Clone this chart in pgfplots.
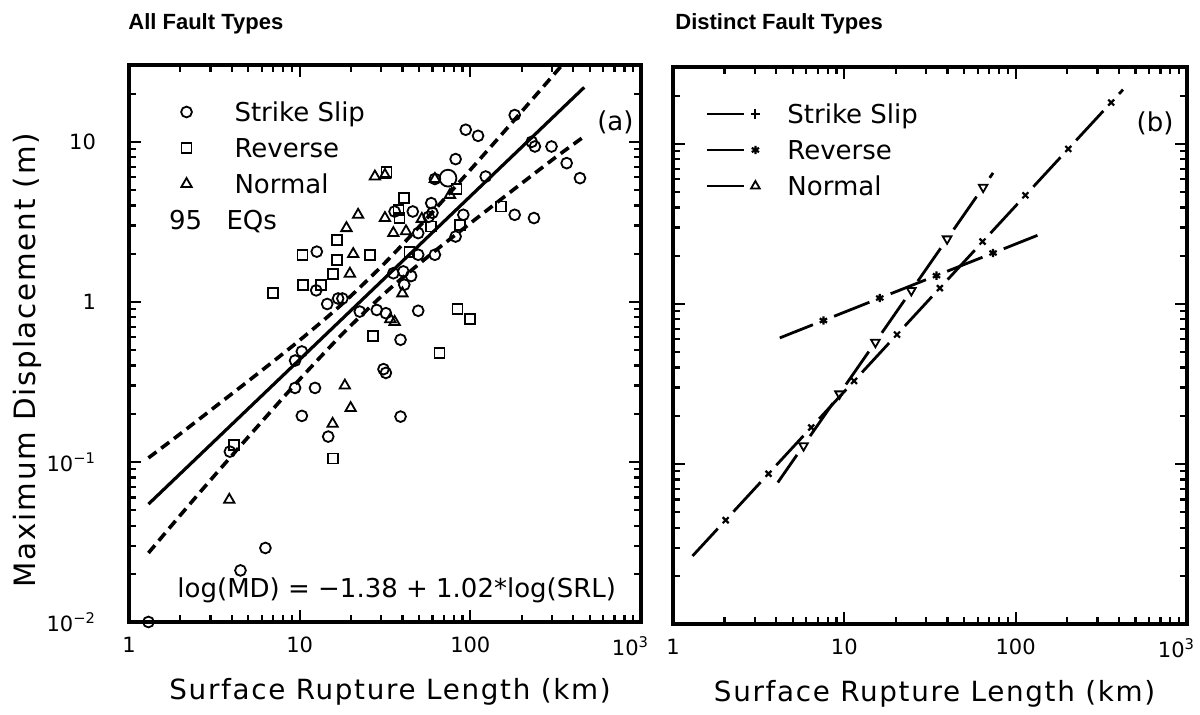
\documentclass[border=0pt]{standalone}
\usepackage{pgfplots}
\pgfplotsset{compat=1.18}
\usepackage{fontspec}
\setmainfont{DejaVu Sans}
\newfontfamily\lblfont[LetterSpace=6]{DejaVu Sans}
\newfontfamily\titlefont{Liberation Sans}
\usetikzlibrary{plotmarks}

\begin{document}
\begin{tikzpicture}
\useasboundingbox (0,0) rectangle (600pt,357.5pt);
\node[anchor=base west, inner sep=0pt, font={\titlefont\bfseries\fontsize{11}{13}\selectfont}] at (64pt,342.5pt) {All Fault Types};
\node[anchor=base west, inner sep=0pt, font={\titlefont\bfseries\fontsize{11}{13}\selectfont}] at (337.5pt,342.5pt) {Distinct Fault Types};

% ---------------- Panel (a) ----------------
\begin{axis}[
  xmode=log, ymode=log, xmin=1, xmax=1000, ymin=0.01, ymax=30.2,
  scale only axis, width=256pt, height=278.5pt, at={(64.5pt,46.5pt)}, anchor=south west,
  axis line style={line width=1.6pt},
  tick align=inside, major tick length=6pt, minor tick length=3.5pt,
  tick style={black, line width=1.1pt},
  xtick={1,10,100,1000}, xticklabels={1,10,100,\makebox[8pt][r]{10\textsuperscript{3}}},
  minor xtick={2,3,4,5,6,7,8,9,20,30,40,50,60,70,80,90,200,300,400,500,600,700,800,900},
  ytick={0.01,0.1,1,10},
  minor ytick={0.02,0.03,0.04,0.05,0.06,0.07,0.08,0.09,0.2,0.3,0.4,0.5,0.6,0.7,0.8,0.9,2,3,4,5,6,7,8,9,20,30},
  yticklabels={10\textsuperscript{−2},10\textsuperscript{−1},1,10},
  ticklabel style={font=\fontsize{10.5}{12}\selectfont},
  xticklabel style={yshift=-4pt},
  yticklabel style={xshift=-13pt},
  xlabel={Surface Rupture Length (km)},
  xlabel style={at={(axis description cs:0.51,-0.1257)}, anchor=center, font=\fontsize{13.9}{16}\lblfont},
  ylabel={Maximum Displacement (m)},
  ylabel style={at={(axis description cs:-0.199,0.47)}, anchor=center, font=\fontsize{14.7}{17}\lblfont},
  legend style={draw=none, fill=none, at={(0,1)}, anchor=north west, xshift=20pt, yshift=-18.75pt,
    inner sep=0pt, outer sep=0pt, font=\fontsize{13}{15}\selectfont, row sep=8.5pt, column sep=16pt,
    nodes={inner sep=0pt, text height=9.5pt, text depth=0pt}, cells={anchor=west}},
  legend cell align=left]

\addlegendimage{legend image code/.code={\path[draw=none,fill=none] (-8pt,-4pt) rectangle (8pt,4pt); \draw[black, mark=o, mark size=2.7pt, line width=0.9pt] plot[only marks] coordinates {(0pt,0pt)};}}
\addlegendentry{Strike Slip}
\addlegendimage{legend image code/.code={\path[draw=none,fill=none] (-8pt,-4pt) rectangle (8pt,4pt); \draw[black, mark=square, mark size=2.5pt, line width=0.9pt] plot[only marks] coordinates {(0pt,0pt)};}}
\addlegendentry{Reverse}
\addlegendimage{legend image code/.code={\path[draw=none,fill=none] (-8pt,-4pt) rectangle (8pt,4pt); \draw[black, mark=triangle, mark size=3pt, line width=0.9pt] plot[only marks] coordinates {(0pt,0pt)};}}
\addlegendentry{Normal}
\addlegendimage{legend image code/.code={\path[draw=none,fill=none] (-8pt,-4pt) rectangle (8pt,4pt); \node[anchor=center, inner sep=0pt, draw=none, font=\fontsize{13}{15}\selectfont] at (-0.5pt,0pt) {95};}}
\addlegendentry{\hspace*{-4pt}EQs}

% regression line and bounds
\addplot[forget plot, black, line width=1.6pt] coordinates {(1.3,0.0545) (465,21.9)};
\addplot[forget plot, black, line width=1.8pt, dash pattern=on 5pt off 3pt, smooth] coordinates {
 (1.3,0.106) (2,0.150) (3.16,0.219) (5.62,0.353) (10,0.576) (17.8,0.973) (31.6,1.753) (56.2,3.37) (100,6.68) (178,13.41) (316,27.1) (347,30.4)};
\addplot[forget plot, black, line width=1.8pt, dash pattern=on 5pt off 3pt, smooth] coordinates {
 (1.3,0.027) (2,0.0465) (3.16,0.082) (5.62,0.165) (10,0.328) (17.8,0.630) (31.6,1.135) (56.2,1.910) (100,3.10) (178,5.00) (316,8.00) (465,10.8)};

% Strike slip
\addplot[forget plot, only marks, black, mark=o, mark size=2.7pt, line width=0.9pt] coordinates {
 (1.3,0.01) (4.5,0.021) (6.3,0.029) (3.9,0.116) (9.4,0.29) (12.3,0.29) (10.3,0.194) (14.7,0.144)
 (9.4,0.43) (10.3,0.49) (22.5,0.87) (31,0.38) (32,0.36) (39,0.58) (39,0.192) (49.5,0.88)
 (28.3,0.89) (32,0.85) (14.5,0.97) (16.8,1.05) (17.8,1.05) (12.5,1.18) (12.6,2.06)
 (35.4,1.51) (40.5,1.55) (45,1.45) (41,1.28) (49.5,1.97) (62,1.97) (49.5,2.69) (46,3.67)
 (36,3.67) (59,4.14) (60,3.6) (57,3.4) (62,5.86) (82,7.8) (94,11.9) (111,10.9) (123,6.07)
 (91,3.5) (82,2.56) (182,14.7) (229,10.0) (239,9.35) (299,9.35) (367,7.36) (439,5.93)
 (182,3.5) (236,3.34)};
\addplot[forget plot, only marks, black, mark=o, mark size=4.2pt, line width=0.9pt] coordinates {(74,5.93)};
% Reverse
\addplot[forget plot, only marks, black, mark=square, mark size=2.5pt, line width=0.9pt] coordinates {
 (4.14,0.128) (15.6,0.105) (26.8,0.61) (66,0.48) (84,0.9) (100,0.78) (6.95,1.14) (10.4,1.97)
 (10.5,1.28) (13.4,1.28) (15.6,1.5) (16.6,1.83) (16.6,2.44) (25.8,1.97) (32.3,6.5) (41,4.45)
 (37.9,3.73) (38.5,3.35) (44,2.06) (59,2.96) (83,5.1) (87,3.03) (151,3.94)};
% Normal
\addplot[forget plot, only marks, black, mark=triangle, mark size=3pt, line width=0.9pt] coordinates {
 (3.87,0.058) (15.6,0.173) (18.4,0.30) (19.9,0.217) (34,0.78) (36,0.75) (40,1.13) (27.6,6.07)
 (31.6,6.2) (22,3.5) (31.6,3.34) (18.8,2.89) (20.6,1.99) (19.7,1.5) (35.4,2.69) (42,2.76)
 (76,4.66) (62,5.86) (52,3.3)};

\node[font=\fontsize{13}{15}\selectfont] at (rel axis cs:0.95,0.897) {(a)};
\node[font=\fontsize{13}{15}\selectfont] at (rel axis cs:0.523,0.057) {log(MD) = −1.38 + 1.02*log(SRL)};
\end{axis}

% ---------------- Panel (b) ----------------
\begin{axis}[
  xmode=log, ymode=log, xmin=1, xmax=1000, ymin=0.01, ymax=30.2,
  scale only axis, width=257pt, height=278.5pt, at={(336.5pt,45.5pt)}, anchor=south west,
  axis line style={line width=1.6pt},
  tick align=inside, major tick length=6pt, minor tick length=3.5pt,
  tick style={black, line width=1.1pt},
  xtick={1,10,100,1000}, xticklabels={1,10,100,\makebox[8pt][r]{10\textsuperscript{3}}},
  minor xtick={2,3,4,5,6,7,8,9,20,30,40,50,60,70,80,90,200,300,400,500,600,700,800,900},
  ytick={0.01,0.1,1,10},
  minor ytick={0.02,0.03,0.04,0.05,0.06,0.07,0.08,0.09,0.2,0.3,0.4,0.5,0.6,0.7,0.8,0.9,2,3,4,5,6,7,8,9,20,30},
  yticklabels={},
  ticklabel style={font=\fontsize{10.5}{12}\selectfont},
  xticklabel style={yshift=-4pt},
  xlabel={Surface Rupture Length (km)},
  xlabel style={at={(axis description cs:0.509,-0.1257)}, anchor=center, font=\fontsize{13.9}{16}\lblfont},
  legend style={draw=none, fill=none, at={(0,1)}, anchor=north west, xshift=16.5pt, yshift=-18.75pt,
    inner sep=0pt, outer sep=0pt, font=\fontsize{13}{15}\selectfont, row sep=8.5pt, column sep=12pt,
    nodes={inner sep=0pt, text height=9.5pt, text depth=0pt}, cells={anchor=west}},
  legend cell align=left]

\addlegendimage{legend image code/.code={\draw[black, line width=1.4pt] (-24pt,0pt)--(-5.5pt,0pt); \path[draw=none,fill=none] (-24pt,-4pt) rectangle (4pt,4pt); \draw[black, mark=+, mark size=2.4pt, line width=1pt] plot[only marks] coordinates {(0pt,0pt)};}}
\addlegendentry{Strike Slip}
\addlegendimage{legend image code/.code={\draw[black, line width=1.4pt] (-24pt,0pt)--(-5.5pt,0pt); \path[draw=none,fill=none] (-24pt,-4pt) rectangle (4pt,4pt); \draw[black, mark=asterisk, mark size=2.1pt, line width=1.1pt] plot[only marks] coordinates {(0pt,0pt)};}}
\addlegendentry{Reverse}
\addlegendimage{legend image code/.code={\draw[black, line width=1.4pt] (-24pt,0pt)--(-5.5pt,0pt); \path[draw=none,fill=none] (-24pt,-4pt) rectangle (4pt,4pt); \draw[black, mark=triangle, mark size=2.5pt, line width=0.9pt] plot[only marks] coordinates {(0pt,0pt)};}}
\addlegendentry{Normal}

% Strike slip
\addplot[forget plot, black, line width=1.4pt, dash pattern=on 20pt off 11.58pt, dash phase=1.41pt] coordinates {(1.3,0.0266) (423,21.8)};
\addplot[forget plot, only marks, black, mark=x, mark size=2.1pt, line width=1.1pt] coordinates {
 (2.03,0.0445) (3.61,0.0868) (6.41,0.169) (11.4,0.330) (20.3,0.643) (36.1,1.254) (64.1,2.45) (114,4.77) (203,9.29) (361,18.1)};
% Reverse
\addplot[forget plot, black, line width=1.4pt, dash pattern=on 19pt off 11.43pt, dash phase=1.2pt] coordinates {(4.2,0.613) (134,2.68)};
\addplot[forget plot, only marks, black, mark=asterisk, mark size=2.1pt, line width=1.1pt] coordinates {
 (7.55,0.787) (16.1,1.088) (34.5,1.50) (73.8,2.08)};
% Normal
\addplot[forget plot, black, line width=1.4pt, dash pattern=on 20pt off 11.46pt, dash phase=3.22pt] coordinates {(4.09,0.0766) (73.8,6.58)};
\addplot[forget plot, only marks, black, mark=triangle, mark size=2.5pt, line width=0.9pt, mark options={rotate=180}] coordinates {
 (5.78,0.130) (9.37,0.274) (15.18,0.576) (24.6,1.212) (39.8,2.548) (64.6,5.36)};

\node[font=\fontsize{13}{15}\selectfont] at (rel axis cs:0.938,0.899) {(b)};
\end{axis}
\end{tikzpicture}
\end{document}
